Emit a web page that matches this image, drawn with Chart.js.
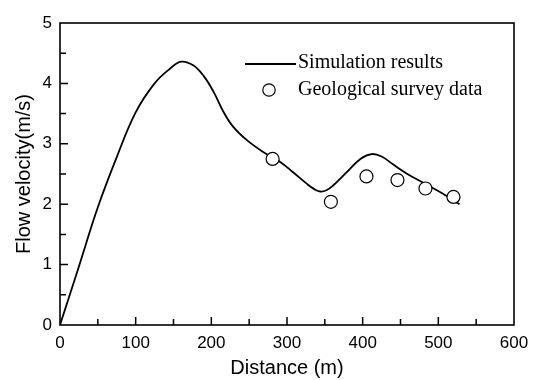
<!DOCTYPE html>
<html>
<head>
<meta charset="utf-8">
<script src="https://cdn.jsdelivr.net/npm/chart.js@4"></script>
<style>
  html, body { margin: 0; padding: 0; background: #fff; }
  #wrap { width: 538px; height: 380px; }
</style>
</head>
<body>
<div id="wrap"><canvas id="flowChart"></canvas></div>
<script>
// simulation curve
var simDistance = [0, 25, 50, 75, 100, 125, 145, 160, 176, 190, 203, 216, 229, 247, 269, 291, 308, 326, 336, 344, 352, 361, 379, 397, 412, 425, 440, 458, 485, 505, 528];
var simVelocity = [0, 0.97, 1.95, 2.78, 3.52, 4.0, 4.24, 4.36, 4.3, 4.12, 3.86, 3.53, 3.28, 3.06, 2.86, 2.7, 2.53, 2.34, 2.25, 2.21, 2.23, 2.31, 2.53, 2.75, 2.83, 2.79, 2.66, 2.51, 2.32, 2.18, 2.0];

// survey points
var surveyDistance = [281, 358, 405, 446, 483, 520];
var surveyVelocity = [2.75, 2.04, 2.46, 2.4, 2.26, 2.12];

var xTicks = [0, 100, 200, 300, 400, 500, 600];
var yTicks = [0, 1, 2, 3, 4, 5];

function toPoints(xs, ys) {
    return xs.map(function (x, i) { return { x: x, y: ys[i] }; });
}

// frame, inward ticks and the legend
var framePlugin = {
    id: 'frame',
    afterDraw: function (chart) {
        var ctx = chart.ctx;
        var a = chart.chartArea;
        var xs = chart.scales.x, ys = chart.scales.y;
        ctx.save();
        ctx.strokeStyle = '#000';
        ctx.lineWidth = 1.6;
        ctx.strokeRect(a.left, a.top, a.right - a.left, a.bottom - a.top);

        ctx.lineWidth = 1.5;
        ctx.beginPath();
        for (var v = 50; v < 600; v += 50) {
            var px = xs.getPixelForValue(v);
            var len = v % 100 === 0 ? 8 : 6;
            ctx.moveTo(px, a.bottom);
            ctx.lineTo(px, a.bottom - len);
        }
        for (var w = 0.5; w < 5; w += 0.5) {
            var py = ys.getPixelForValue(w);
            var l2 = w % 1 === 0 ? 8 : 6;
            ctx.moveTo(a.left, py);
            ctx.lineTo(a.left + l2, py);
        }
        ctx.stroke();

        // legend
        var ds = chart.data.datasets;
        ctx.font = '20px "Liberation Serif", "Times New Roman", serif';
        ctx.fillStyle = '#000';
        ctx.textBaseline = 'middle';
        ctx.lineWidth = 1.8;
        ctx.beginPath();
        ctx.moveTo(245, 64);
        ctx.lineTo(296, 64);
        ctx.stroke();
        ctx.fillText(ds[0].label, 298, 63);

        ctx.lineWidth = 1.2;
        ctx.beginPath();
        ctx.arc(269, 90, 6.2, 0, Math.PI * 2);
        ctx.fillStyle = '#fff';
        ctx.fill();
        ctx.stroke();
        ctx.fillStyle = '#000';
        ctx.fillText(ds[1].label, 298, 90);
        ctx.restore();
    }
};

document.addEventListener('DOMContentLoaded', function () {
    var ctx = document.getElementById('flowChart').getContext('2d');
    var flowChart = new Chart(ctx, {
        type: 'scatter',
        data: {
            datasets: [
                {
                    label: 'Simulation results',
                    data: toPoints(simDistance, simVelocity),
                    showLine: true,
                    borderColor: '#000',
                    borderWidth: 1.8,
                    pointRadius: 0,
                    tension: 0.4,
                    fill: false,
                    order: 2
                },
                {
                    label: 'Geological survey data',
                    data: toPoints(surveyDistance, surveyVelocity),
                    showLine: false,
                    pointRadius: 6.5,
                    pointBackgroundColor: '#fff',
                    pointBorderColor: '#000',
                    pointBorderWidth: 1.2,
                    order: 1
                }
            ]
        },
        options: {
            responsive: true,
            maintainAspectRatio: false,
            animation: false,
            layout: {
                padding: { left: 0, right: 24, top: 23, bottom: 0 }
            },
            plugins: {
                legend: { display: false },
                tooltip: { enabled: false }
            },
            scales: {
                x: {
                    type: 'linear',
                    min: 0,
                    max: 600,
                    afterBuildTicks: function (scale) {
                        scale.ticks = xTicks.map(function (v) { return { value: v }; });
                    },
                    afterFit: function (scale) { scale.height = 55; },
                    grid: { display: false, drawTicks: false },
                    border: { display: false },
                    ticks: {
                        color: '#000',
                        padding: 8,
                        maxRotation: 0,
                        font: { family: '"Liberation Sans", Arial, sans-serif', size: 17 }
                    },
                    title: {
                        display: true,
                        text: 'Distance (m)',
                        color: '#000',
                        padding: { top: 0, bottom: 0 },
                        font: { family: '"Liberation Sans", Arial, sans-serif', size: 20 }
                    }
                },
                y: {
                    min: 0,
                    max: 5,
                    afterBuildTicks: function (scale) {
                        scale.ticks = yTicks.map(function (v) { return { value: v }; });
                    },
                    afterFit: function (scale) { scale.width = 60; },
                    grid: { display: false, drawTicks: false },
                    border: { display: false },
                    ticks: {
                        color: '#000',
                        padding: 8,
                        font: { family: '"Liberation Sans", Arial, sans-serif', size: 17 }
                    },
                    title: {
                        display: true,
                        text: 'Flow velocity(m/s)',
                        color: '#000',
                        padding: { top: 12, bottom: 0 },
                        font: { family: '"Liberation Sans", Arial, sans-serif', size: 20 }
                    }
                }
            }
        },
        plugins: [framePlugin]
    });
});
</script>
</body>
</html>
